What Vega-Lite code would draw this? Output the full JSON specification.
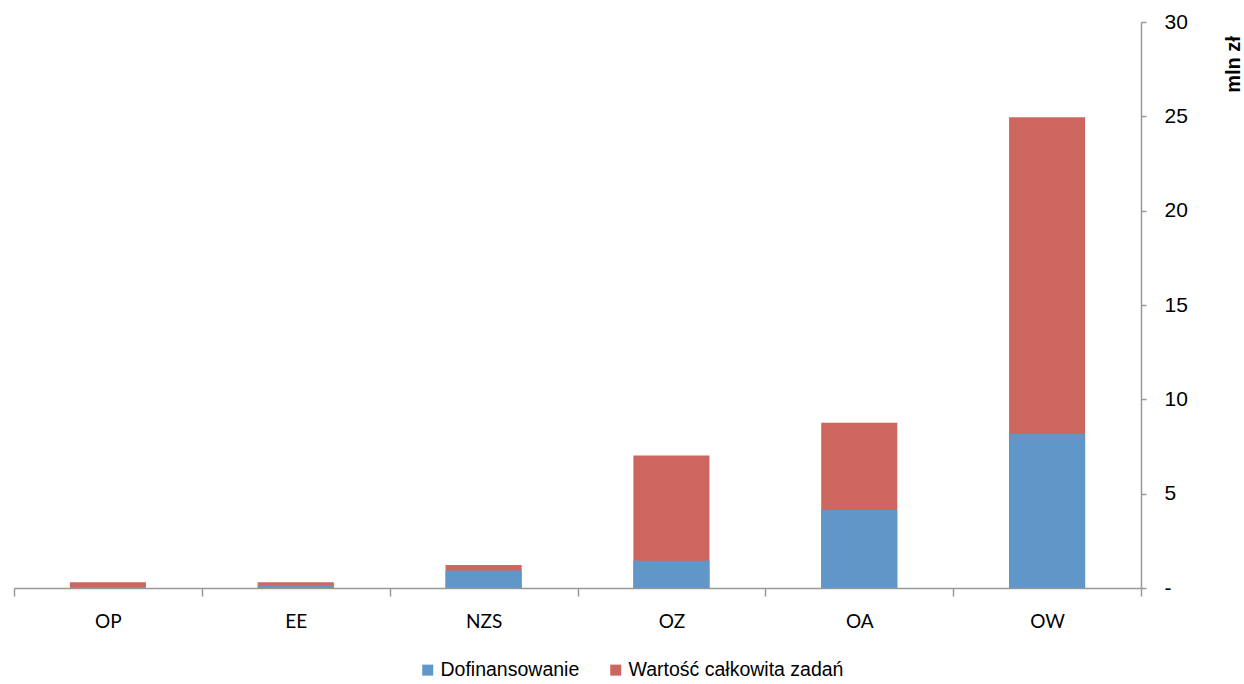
{
  "$schema": "https://vega.github.io/schema/vega-lite/v6.json",
  "autosize": "none",
  "width": 1127,
  "height": 566,
  "padding": {"left": 14, "top": 22, "right": 103, "bottom": 96},
  "background": "white",
  "data": {
    "values": [
      {"kategoria": "OP", "seria": "Wartość całkowita zadań", "wartosc": 0.3},
      {"kategoria": "EE", "seria": "Wartość całkowita zadań", "wartosc": 0.3},
      {"kategoria": "NZS", "seria": "Wartość całkowita zadań", "wartosc": 1.22},
      {"kategoria": "OZ", "seria": "Wartość całkowita zadań", "wartosc": 7.02},
      {"kategoria": "OA", "seria": "Wartość całkowita zadań", "wartosc": 8.76},
      {"kategoria": "OW", "seria": "Wartość całkowita zadań", "wartosc": 24.95},
      {"kategoria": "OP", "seria": "Dofinansowanie", "wartosc": 0.05},
      {"kategoria": "EE", "seria": "Dofinansowanie", "wartosc": 0.16},
      {"kategoria": "NZS", "seria": "Dofinansowanie", "wartosc": 0.93},
      {"kategoria": "OZ", "seria": "Dofinansowanie", "wartosc": 1.45},
      {"kategoria": "OA", "seria": "Dofinansowanie", "wartosc": 4.15},
      {"kategoria": "OW", "seria": "Dofinansowanie", "wartosc": 8.17}
    ]
  },
  "mark": {"type": "bar", "width": {"band": 0.405}},
  "encoding": {
    "x": {
      "field": "kategoria",
      "type": "nominal",
      "sort": ["OP", "EE", "NZS", "OZ", "OA", "OW"],
      "scale": {"paddingInner": 0, "paddingOuter": 0},
      "axis": {
        "title": null,
        "labelAngle": 0,
        "tickBand": "extent",
        "domainColor": "#999999",
        "domainWidth": 1.5,
        "tickColor": "#999999",
        "tickWidth": 1.5,
        "tickSize": 8,
        "labelFont": "Lato, Liberation Sans, sans-serif",
        "labelFontSize": 19,
        "labelColor": "#000000",
        "labelPadding": 16
      }
    },
    "y": {
      "field": "wartosc",
      "type": "quantitative",
      "stack": null,
      "scale": {"domain": [0, 30], "nice": false},
      "axis": {
        "orient": "right",
        "values": [0, 5, 10, 15, 20, 25, 30],
        "labelExpr": "datum.value === 0 ? '-' : datum.label",
        "grid": false,
        "domainColor": "#999999",
        "domainWidth": 1.5,
        "tickColor": "#999999",
        "tickWidth": 1.5,
        "tickSize": 5,
        "labelFont": "Liberation Sans, Arial, sans-serif",
        "labelFontSize": 21,
        "labelColor": "#000000",
        "labelPadding": 18,
        "labelAlign": "left",
        "labelBaseline": "middle",
        "title": "mln zł",
        "titleFont": "Liberation Sans, Arial, sans-serif",
        "titleFontWeight": "bold",
        "titleFontSize": 20,
        "titleColor": "#000000",
        "titleAngle": 270,
        "titleAlign": "center",
        "titleBaseline": "middle",
        "titleX": 92,
        "titleY": 42
      }
    },
    "color": {
      "field": "seria",
      "type": "nominal",
      "scale": {
        "domain": ["Dofinansowanie", "Wartość całkowita zadań"],
        "range": ["#6096C8", "#CD665F"]
      },
      "legend": {
        "title": null,
        "orient": "none",
        "direction": "horizontal",
        "legendX": 404,
        "legendY": 638,
        "padding": 0,
        "symbolType": "square",
        "symbolSize": 121,
        "symbolStrokeWidth": 0,
        "labelFont": "Liberation Sans, Arial, sans-serif",
        "labelFontSize": 19.5,
        "labelLimit": 400,
        "labelColor": "#000000",
        "labelOffset": 3,
        "columnPadding": 26
      }
    }
  },
  "config": {"view": {"stroke": null}}
}
